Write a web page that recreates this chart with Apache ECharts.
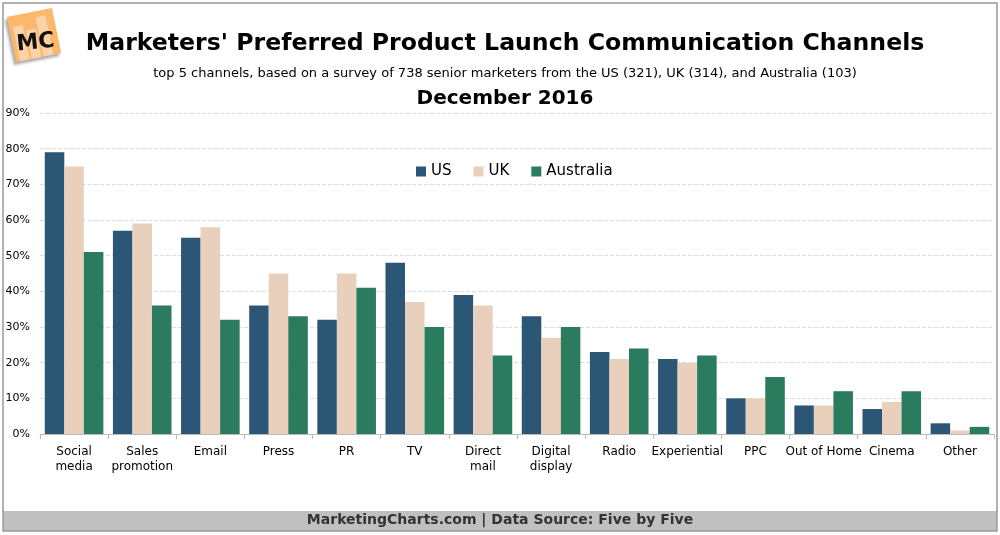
<!DOCTYPE html>
<html><head><meta charset="utf-8">
<script src="https://cdn.jsdelivr.net/npm/echarts@6/dist/echarts.min.js"></script>
<style>html,body{margin:0;padding:0;background:#fff}#c{width:1000px;height:535px}</style>
</head><body><div id="c"></div>
<script>
const categories = ['Social\nmedia','Sales\npromotion','Email','Press','PR','TV','Direct\nmail','Digital\ndisplay','Radio','Experiential','PPC','Out of Home','Cinema','Other'];
const usValues = [79,57,55,36,32,48,39,33,23,21,10,8,7,3];
const ukValues = [75,59,58,45,45,37,36,27,21,20,10,8,9,1];
const auValues = [51,36,32,33,41,30,22,30,24,22,16,12,12,2];
const yTicks = [0,10,20,30,40,50,60,70,80,90];

const font = 'DejaVu Sans, Verdana, sans-serif';
const chart = echarts.init(document.getElementById('c'));
const mk = (name, data, color) => ({
  name, type: 'bar', data, barGap: '0%', barCategoryGap: '14%',
  itemStyle: { color }
});
chart.setOption({
  animation: false,
  textStyle: { fontFamily: font },
  title: [
    { text: "Marketers' Preferred Product Launch Communication Channels", left: 500, top: 27, textAlign: 'center',
      textStyle: { fontFamily: font, fontSize: 23.6, fontWeight: 'bold', color: '#000' } },
    { text: 'top 5 channels, based on a survey of 738 senior marketers from the US (321), UK (314), and Australia (103)', left: 500, top: 62, textAlign: 'center',
      textStyle: { fontFamily: font, fontSize: 13, fontWeight: 'normal', color: '#000' } },
    { text: 'December 2016', left: 500, top: 84, textAlign: 'center',
      textStyle: { fontFamily: font, fontSize: 20, fontWeight: 'bold', color: '#000' } }
  ],
  legend: {
    top: 159, left: 411, itemWidth: 10, itemHeight: 10, itemGap: 22, icon: 'rect',
    textStyle: { fontFamily: font, fontSize: 15, color: '#000' },
    data: ['US','UK','Australia']
  },
  grid: { left: 40, right: 6, top: 113, bottom: 101 },
  xAxis: {
    type: 'category', data: categories,
    axisLine: { lineStyle: { color: '#bbb' } },
    axisTick: { show: true, lineStyle: { color: '#bbb' } },
    axisLabel: { fontFamily: font, fontSize: 12, color: '#000', interval: 0, margin: 10, lineHeight: 15 }
  },
  yAxis: {
    type: 'value', min: 0, max: 90, interval: 10,
    axisLine: { show: false }, axisTick: { show: false },
    axisLabel: { fontFamily: font, fontSize: 11, color: '#000', margin: 10, formatter: v => yTicks.includes(v) ? v + '%' : '' },
    splitLine: { lineStyle: { color: '#ddd', type: 'dashed' } }
  },
  series: [
    mk('US', usValues, '#2b5676'),
    mk('UK', ukValues, '#e9d0bd'),
    mk('Australia', auValues, '#2b7b5e')
  ],
  graphic: [
    { type: 'rect', shape: { x: 3, y: 3, width: 994, height: 528 }, style: { fill: 'none', stroke: '#999', lineWidth: 1.5 }, z: 100 },
    { type: 'rect', shape: { x: 3, y: 511, width: 994, height: 20 }, style: { fill: '#c0c0c0' }, z: 50 },
    { type: 'text', left: 'center', top: 513, style: { text: 'MarketingCharts.com | Data Source: Five by Five', fill: '#333', font: 'bold 14px ' + font }, z: 60 },
    { type: 'group', x: 34, y: 35, rotation: 0.2, z: 60, children: [
      { type: 'rect', shape: { x: -23, y: -23, width: 46, height: 46 }, style: { fill: '#fbb76a', shadowBlur: 3, shadowColor: 'rgba(0,0,0,0.35)', shadowOffsetX: -2, shadowOffsetY: 3 } },
      { type: 'rect', shape: { x: -19, y: -12, width: 10, height: 35 }, style: { fill: '#fcd3a8' } },
      { type: 'rect', shape: { x: -7, y: -6, width: 10, height: 29 }, style: { fill: '#fcd3a8' } },
      { type: 'rect', shape: { x: 5, y: -17, width: 10, height: 40 }, style: { fill: '#fcd3a8' } },
      { type: 'text', x: 0, y: 8, rotation: -0.1, style: { text: 'MC', fill: '#111', font: 'bold 22px ' + font, align: 'center', verticalAlign: 'middle' } }
    ]}
  ]
});
</script></body></html>
